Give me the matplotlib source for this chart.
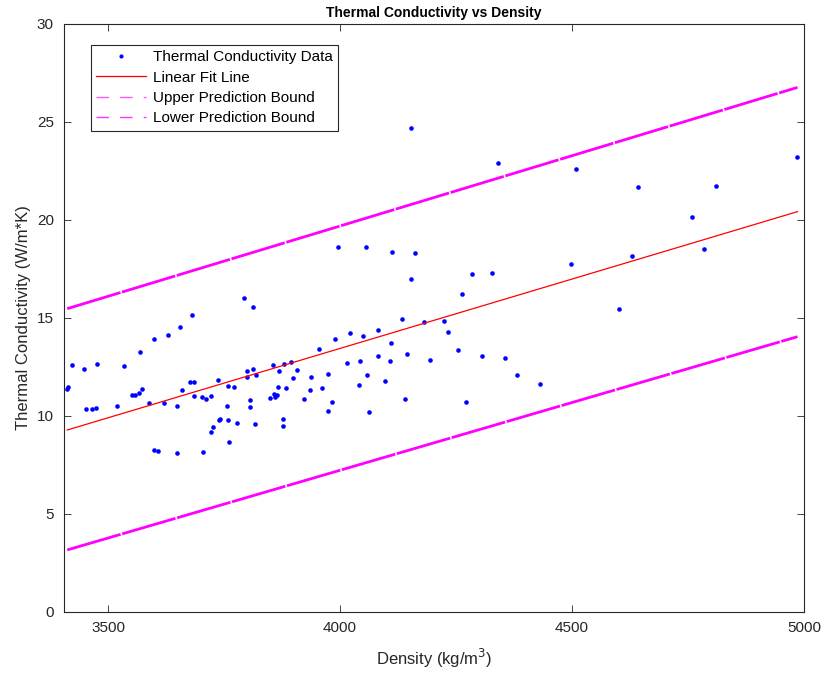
import numpy as np
import matplotlib
matplotlib.use('Agg')
import matplotlib.pyplot as plt
from matplotlib.lines import Line2D

plt.rcParams['font.family'] = ['Liberation Sans', 'DejaVu Sans']

# data
density = [3412, 3414, 3422, 3449, 3452, 3466, 3474, 3476, 3519, 3535,
           3552, 3559, 3567, 3574, 3568, 3589, 3600, 3598, 3607, 3621,
           3629, 3649, 3649, 3655, 3660, 3676, 3685, 3680, 3686, 3702,
           3711, 3721, 3705, 3721, 3726, 3737, 3740, 3742, 3756, 3759,
           3759, 3761, 3771, 3778, 3793, 3813, 3800, 3800, 3813, 3818,
           3805, 3805, 3816, 3850, 3855, 3857, 3860, 3865, 3866, 3869,
           3877, 3878, 3880, 3884, 3895, 3898, 3908, 3922, 3935, 3937,
           3954, 3962, 3974, 3974, 3983, 3989, 4014, 4021, 4040, 4043,
           4050, 4059, 4062, 4081, 4081, 4096, 4108, 4110, 4154, 4340,
           3995, 4057, 4111, 4162, 4154, 4285, 4328, 4262, 4134, 4181,
           4224, 4232, 4144, 4193, 4255, 4305, 4356, 4382, 4141, 4272,
           4430, 4509, 4642, 4498, 4629, 4601, 4986, 4811, 4759, 4785]
conductivity = [11.35, 11.45, 12.57, 12.38, 10.36, 10.36, 10.39, 12.64, 10.49, 12.55,
                11.06, 11.06, 11.14, 11.35, 13.25, 10.63, 13.93, 8.23, 8.20, 10.66,
                14.10, 10.49, 8.11, 14.53, 11.31, 11.73, 11.73, 15.15, 11.01, 10.97,
                10.85, 11.02, 8.13, 9.15, 9.44, 11.82, 9.77, 9.82, 10.48, 11.53,
                9.77, 8.64, 11.48, 9.64, 15.99, 15.56, 12.27, 11.96, 12.37, 12.09,
                10.82, 10.44, 9.59, 10.90, 12.59, 11.09, 10.97, 11.07, 11.48, 12.28,
                9.83, 9.47, 12.65, 11.43, 12.74, 11.94, 12.33, 10.87, 11.31, 11.97,
                13.42, 11.41, 12.11, 10.26, 10.70, 13.90, 12.70, 14.20, 11.57, 12.79,
                14.05, 12.06, 10.20, 14.39, 13.06, 11.76, 12.81, 13.72, 24.66, 22.88,
                18.61, 18.61, 18.37, 18.31, 16.96, 17.24, 17.27, 16.21, 14.95, 14.77,
                14.83, 14.29, 13.16, 12.83, 13.35, 13.06, 12.96, 12.09, 10.87, 10.70,
                11.63, 22.59, 21.68, 17.76, 18.15, 15.43, 23.21, 21.72, 20.15, 18.52]

# fit line and prediction bounds at min / max density
line_x = [min(density), max(density)]
fit_y = [9.27, 20.41]
upper_y = [15.46, 26.75]
lower_y = [3.15, 14.03]

fig = plt.figure(figsize=(8.23, 6.77), dpi=100)
ax = fig.add_axes([0.0772, 0.0965, 0.8997, 0.8685])

ax.plot(density, conductivity, 'o', color='blue', markersize=3.3, markeredgewidth=0)
ax.plot(line_x, fit_y, '-', color='red', linewidth=0.9)
ax.plot(line_x, upper_y, color='magenta', linewidth=2.0, linestyle=(0, (20, 0.6)))
ax.plot(line_x, lower_y, color='magenta', linewidth=2.0, linestyle=(0, (20, 0.6)))

ax.set_xlim(3404, 5000)
ax.set_ylim(0, 30)
ax.set_xticks([3500, 4000, 4500, 5000])
ax.set_yticks([0, 5, 10, 15, 20, 25, 30])
ax.tick_params(direction='in', top=True, right=True, length=5, width=0.6,
               labelsize=11, colors='#262626', pad=7)
for s in ax.spines.values():
    s.set_color('#262626')
    s.set_linewidth(0.8)

ax.set_xlabel('Density (kg/m$^3$)', fontsize=12, color='#262626', labelpad=8)
ax.set_ylabel('Thermal Conductivity (W/m*K)', fontsize=12, color='#262626')
ax.set_title('Thermal Conductivity vs Density', fontsize=10, fontweight='bold', pad=5)

handles = [
    Line2D([], [], marker='o', ls='none', color='blue', markersize=3, markeredgewidth=0),
    Line2D([], [], color='red', lw=0.9),
    Line2D([], [], color='#ff55ff', lw=1, ls=(0, (9, 8))),
    Line2D([], [], color='#ff33ff', lw=1, ls=(0, (9, 8))),
]
labels = ['Thermal Conductivity Data', 'Linear Fit Line',
          'Upper Prediction Bound', 'Lower Prediction Bound']
leg = ax.legend(handles, labels, loc='upper left', bbox_to_anchor=(0.0365, 0.964),
                borderaxespad=0, fontsize=11, fancybox=False, framealpha=1,
                handlelength=3.3, handletextpad=0.45, labelspacing=0.42,
                borderpad=0.35)
leg.get_frame().set_edgecolor('#262626')
leg.get_frame().set_linewidth(0.8)

plt.savefig('out.png', dpi=100)
